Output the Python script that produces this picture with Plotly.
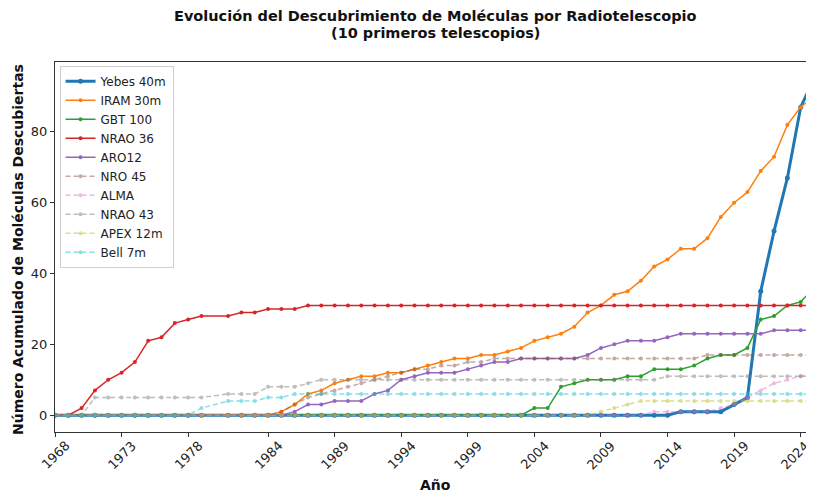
import plotly.graph_objects as go

# Years (1980 absent from the data)
years = list(range(1968, 1980)) + list(range(1981, 2026))
tick_years = years[::5]
tick_labels = [str(y) for y in tick_years]
y_ticks = [0, 20, 40, 60, 80]

telescopes = ["Yebes 40m", "IRAM 30m", "GBT 100", "NRAO 36", "ARO12",
              "NRO 45", "ALMA", "NRAO 43", "APEX 12m", "Bell 7m"]

yebes_40m = [0] * 46 + [1, 1, 1, 1, 3, 5, 35, 52, 67, 87, 95]
iram_30m = [0] * 16 + [1, 3, 6, 7, 9, 10, 11, 11, 12, 12, 13, 14, 15, 16, 16, 17, 17,
                       18, 19, 21, 22, 23, 25, 29, 31, 34, 35, 38, 42, 44, 47, 47, 50,
                       56, 60, 63, 69, 73, 82, 87, 90]
gbt_100 = [0] * 35 + [2, 2, 8, 9, 10, 10, 10, 11, 11, 13, 13, 13, 14, 16, 17, 17, 19,
                      27, 28, 31, 32, 36]
nrao_36 = [0, 0, 2, 7, 10, 12, 15, 21, 22, 26, 27, 28,
           28, 29, 29, 30, 30, 30] + [31] * 39
aro12 = [0] * 17 + [1, 3, 3, 4, 4, 4, 6, 7, 10, 11, 12, 12, 12, 13, 14, 15, 15, 16, 16,
                    16, 16, 16, 17, 19, 20, 21, 21, 21, 22, 23, 23, 23, 23, 23, 23, 23,
                    24, 24, 24, 24]
nro_45 = [0] * 16 + [1, 3, 5, 6, 7, 8, 9, 10, 11, 12, 13, 13, 14, 14, 15, 15, 16] \
         + [16] * 15 + [17] * 9
alma = [0] * 44 + [1, 1, 1, 1, 1, 2, 3, 5, 7, 9, 10, 11, 12]
nrao_43 = [0, 0, 0] + [5] * 9 + [6, 6, 6, 8, 8, 8, 9] + [10] * 26 + [11] * 12
apex_12m = [0] * 40 + [1, 2, 3, 4] + [4] * 13
bell_7m = [0] * 11 + [2, 4, 4, 4, 5, 5] + [6] * 40

series = [yebes_40m, iram_30m, gbt_100, nrao_36, aro12,
          nro_45, alma, nrao_43, apex_12m, bell_7m]
colors = ["#1f77b4", "#ff7f0e", "#2ca02c", "#d62728", "#9467bd",
          "#8c564b", "#e377c2", "#7f7f7f", "#bcbd22", "#17becf"]

# The page has an 8px body margin, so the figure is drawn 8px in from the
# window's top-left corner; size the figure to fill the remaining window.
OFF = 8
W, H = 814 - OFF, 494 - OFF
PLOT_L, PLOT_T, PLOT_B = 55, 62, 432          # plot-area edges, window pixels
ML, MT = PLOT_L - OFF, PLOT_T - OFF
MB = H - (PLOT_B - OFF)
MR = 0
PW = W - ML - MR
PH = H - MT - MB

fig = go.Figure()
for i, (name, vals, col) in enumerate(zip(telescopes, series, colors)):
    main = i < 5
    width = 3 if i == 0 else 1.5
    fig.add_trace(go.Scatter(
        x=years, y=vals, name=name, mode="lines+markers",
        line=dict(color=col, width=width, dash="solid" if main else "5px,3px"),
        marker=dict(color=col, size=5 if i == 0 else 4),
        opacity=1.0 if main else 0.5,
    ))

fig.update_layout(
    width=W, height=H,
    margin=dict(l=ML, r=MR, t=MT, b=MB),
    plot_bgcolor="white", paper_bgcolor="white",
    font=dict(family="DejaVu Sans", size=13, color="#222"),
    showlegend=True,
    legend=dict(
        x=0.006, y=0.99, xanchor="left", yanchor="top",
        bgcolor="rgba(255,255,255,0.85)", bordercolor="#d0d0d0", borderwidth=1,
        font=dict(size=12, color="#222"),
    ),
)
fig.update_xaxes(
    range=[1968, 2025], tickvals=tick_years, showticklabels=False,
    ticks="outside", ticklen=4, tickcolor="#333",
    showline=True, linecolor="#333", linewidth=1, mirror=True,
    showgrid=False, zeroline=False, automargin=False,
)
fig.update_yaxes(
    range=[-4.75, 99.75], tickvals=y_ticks,
    ticks="outside", ticklen=4, tickcolor="#333", tickfont=dict(size=13),
    showline=True, linecolor="#333", linewidth=1,
    showgrid=False, zeroline=False, automargin=False,
)


def py(row):
    """window pixel row -> paper y"""
    return (H - MB - (row - OFF)) / PH


def px(col):
    """window pixel column -> paper x"""
    return (col - OFF - ML) / PW


# rotated x tick labels centred on their ticks (matplotlib style)
for k, (yr, lab) in enumerate(zip(tick_years, tick_labels)):
    last = k == len(tick_years) - 1
    fig.add_annotation(text=lab, x=yr, xref="x", y=py(455), yref="paper",
                       textangle=-45, xanchor="center", yanchor="middle",
                       xshift=-6 if last else 0,
                       showarrow=False, font=dict(size=13, color="#222"))

fig.add_annotation(text="<b>Evolución del Descubrimiento de Moléculas por Radiotelescopio</b>",
                   xref="paper", yref="paper", x=px(435), y=py(16), xanchor="center",
                   yanchor="middle", showarrow=False, font=dict(size=14.5, color="#111"))
fig.add_annotation(text="<b>(10 primeros telescopios)</b>",
                   xref="paper", yref="paper", x=px(435), y=py(33), xanchor="center",
                   yanchor="middle", showarrow=False, font=dict(size=14.5, color="#111"))
fig.add_annotation(text="<b>Año</b>", xref="paper", yref="paper", x=px(435), y=py(485),
                   xanchor="center", yanchor="middle", showarrow=False,
                   font=dict(size=14, color="#111"))
fig.add_annotation(text="<b>Número Acumulado de Moléculas Descubiertas</b>",
                   xref="paper", yref="paper", x=px(18), y=py(250),
                   textangle=-90, xanchor="center", yanchor="middle", showarrow=False,
                   font=dict(size=14, color="#111"))

fig.write_html("out.html")
